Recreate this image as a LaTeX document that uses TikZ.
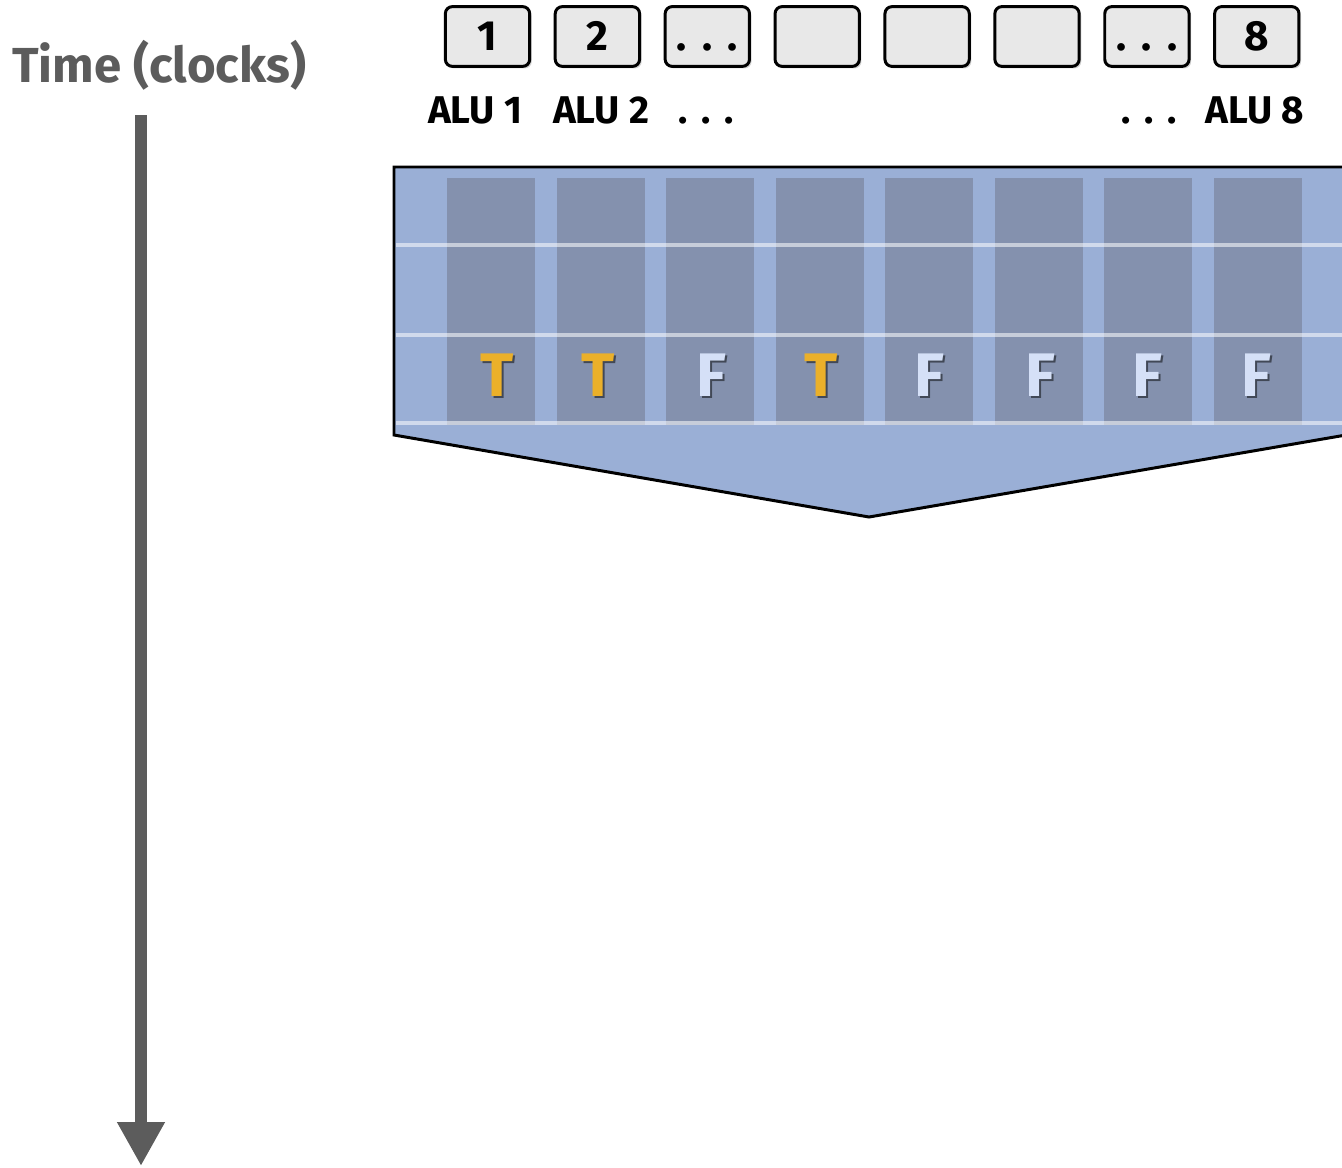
\documentclass[tikz,border=0pt]{standalone}
\usepackage{fontspec}
\setmainfont{Fira Sans}
\usetikzlibrary{arrows.meta,positioning,shadows}
\definecolor{laneblue}{HTML}{9AAFD6}
\definecolor{lanedark}{HTML}{8491AE}
\definecolor{boxgray}{HTML}{E8E8E8}
\definecolor{timegray}{HTML}{5C5C5C}
\definecolor{tgold}{HTML}{EBB02A}
\definecolor{fpale}{HTML}{D5E0F7}
\tikzset{font=\bfseries}
\tikzset{alubox/.style={draw=black, line width=1.7pt, fill=boxgray, rounded corners=4pt,
    minimum width=48pt, minimum height=34pt, inner sep=0pt, text height=16.5pt, text depth=0pt,
    drop shadow={shadow xshift=1.2pt, shadow yshift=-1.2pt, opacity=0.35},
    font=\fontsize{24}{24}\selectfont\bfseries}}
\tikzset{alulabel/.style={anchor=base, inner sep=0pt, font=\fontsize{22}{22}\selectfont\bfseries}}
\tikzset{flag/.style={anchor=base, inner sep=0pt, font=\fontsize{35}{35}\selectfont\bfseries}}
\tikzset{flagsh/.style={flag, text=black, opacity=0.5}}
\newcommand{\dotsgap}{.\hspace{0.36em}.\hspace{0.36em}.}

\begin{document}
\begin{tikzpicture}[x=0.02cm,y=-0.02cm]
  \useasboundingbox (0,0) rectangle (1342,1167);
  \clip (0,0) rectangle (1342,1167);
  % time axis
  \node[anchor=base west, inner sep=0pt, text=timegray, font=\fontsize{28}{28}\selectfont\bfseries]
    (time) at (12,82) {Time (clocks)};
  \coordinate (tstart) at (141,115);
  \coordinate (tend) at (141,1166);
  \draw[timegray, line width=6.8pt, -{Triangle[length=25pt,width=25.5pt]}] (tstart) -- (tend);
  % ALU boxes
  \foreach \lab [count=\i] in {1, 2, \dotsgap, , , , \dotsgap, 8}{
    \node[alubox] (b\i) at ({487.5+109.9*(\i-1)},36.5) {\lab};
  };
  \node[alulabel] (lab1) at (475,123) {ALU 1};
  \node[alulabel] (lab2) at (601,123) {ALU 2};
  \node[alulabel] (labd1) at (706,123) {\dotsgap};
  \node[alulabel] (labd2) at (1149,123) {\dotsgap};
  \node[alulabel] (lab8) at (1255,123) {ALU 8};
  % lane block
  \draw[fill=laneblue, line width=1.7pt] (394,167) -- (1346,167) -- (1346,435) -- (869,517)
    -- (394,435) -- cycle;
  \foreach \i in {0,...,7}{
    \fill[lanedark] ({447+109.57*\i},178) rectangle +(88,247);
  };
  \foreach \y in {245,335,423}{
    \draw[white, opacity=0.55, line width=2.5pt] (396,\y) -- (1346,\y);
  };
  % mask flags
  \foreach \x/\c/\k [count=\i] in {497/T/tgold, 598/T/tgold, 711/F/fpale, 821/T/tgold,
                                   929/F/fpale, 1040/F/fpale, 1147/F/fpale, 1256/F/fpale}{
    \node[flagsh] (sh\i) at (\x+2.5,398.5) {\c};
    \node[flag, text=\k] (fl\i) at (\x,396) {\c};
  };
\end{tikzpicture}
\end{document}
